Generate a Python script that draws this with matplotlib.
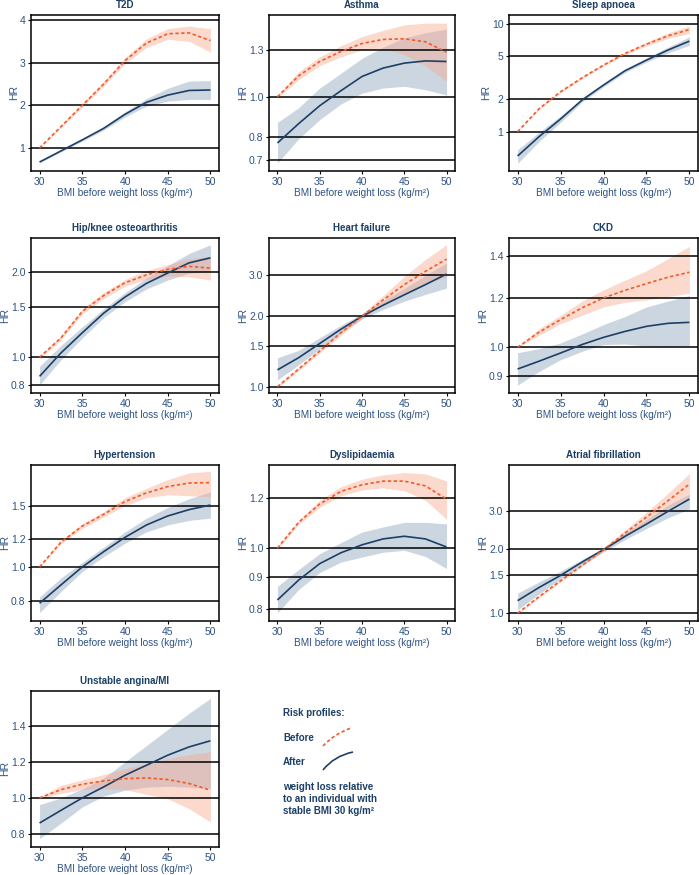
import matplotlib
matplotlib.use("Agg")
import matplotlib.pyplot as plt
from matplotlib.path import Path
import matplotlib.patches as patches
from matplotlib.ticker import FixedLocator, NullLocator, FixedFormatter

plt.rcParams['font.family'] = ['Liberation Sans', 'DejaVu Sans']

NAVY = '#1c3f66'
ORANGE = '#f15a29'
TXT = '#2d5283'

bmi = [30, 32.5, 35, 37.5, 40, 42.5, 45, 47.5, 50]

titles = ['T2D', 'Asthma', 'Sleep apnoea', 'Hip/knee osteoarthritis', 'Heart failure',
          'CKD', 'Hypertension', 'Dyslipidaemia', 'Atrial fibrillation', 'Unstable angina/MI']

# before weight loss (dashed) and after (solid), with CI bounds
t2d_before = [1.0, 1.5, 2.0, 2.5, 3.05, 3.46, 3.68, 3.70, 3.52]
t2d_before_lo = [0.99, 1.47, 1.96, 2.45, 2.98, 3.36, 3.55, 3.50, 3.25]
t2d_before_hi = [1.01, 1.53, 2.04, 2.56, 3.12, 3.56, 3.80, 3.86, 3.80]
t2d_after = [0.67, 0.93, 1.19, 1.46, 1.79, 2.07, 2.24, 2.35, 2.36]
t2d_after_lo = [0.65, 0.91, 1.16, 1.42, 1.73, 1.98, 2.10, 2.14, 2.14]
t2d_after_hi = [0.69, 0.95, 1.22, 1.50, 1.85, 2.16, 2.40, 2.57, 2.58]

asthma_before = [1.0, 1.124, 1.218, 1.288, 1.347, 1.378, 1.383, 1.36, 1.283]
asthma_before_lo = [0.995, 1.10, 1.19, 1.25, 1.30, 1.31, 1.265, 1.19, 1.09]
asthma_before_hi = [1.005, 1.15, 1.25, 1.33, 1.40, 1.45, 1.495, 1.51, 1.51]
asthma_after = [0.772, 0.860, 0.951, 1.034, 1.12, 1.174, 1.207, 1.222, 1.218]
asthma_after_lo = [0.69, 0.79, 0.88, 0.96, 1.02, 1.05, 1.06, 1.04, 1.01]
asthma_after_hi = [0.866, 0.94, 1.05, 1.14, 1.24, 1.32, 1.39, 1.43, 1.46]

sleep_before = [1.0, 1.63, 2.34, 3.15, 4.13, 5.29, 6.45, 7.7, 8.8]
sleep_before_lo = [0.99, 1.60, 2.29, 3.07, 4.02, 5.12, 6.2, 7.3, 8.1]
sleep_before_hi = [1.01, 1.66, 2.39, 3.23, 4.24, 5.46, 6.7, 8.2, 9.5]
sleep_after = [0.596, 0.90, 1.31, 1.96, 2.70, 3.66, 4.59, 5.69, 6.88]
sleep_after_lo = [0.51, 0.81, 1.22, 1.88, 2.60, 3.52, 4.40, 5.35, 6.3]
sleep_after_hi = [0.68, 0.99, 1.40, 2.04, 2.80, 3.80, 4.80, 6.05, 7.55]

hip_before = [1.0, 1.17, 1.45, 1.65, 1.83, 1.95, 2.04, 2.09, 2.06]
hip_before_lo = [0.99, 1.15, 1.42, 1.61, 1.78, 1.88, 1.93, 1.92, 1.87]
hip_before_hi = [1.01, 1.19, 1.48, 1.69, 1.88, 2.02, 2.12, 2.22, 2.27]
hip_after = [0.857, 1.036, 1.22, 1.43, 1.63, 1.82, 1.98, 2.15, 2.24]
hip_after_lo = [0.80, 0.98, 1.17, 1.38, 1.57, 1.74, 1.87, 1.98, 2.01]
hip_after_hi = [0.93, 1.10, 1.28, 1.48, 1.69, 1.90, 2.10, 2.32, 2.49]

hf_before = [1.0, 1.19, 1.42, 1.70, 2.0, 2.35, 2.73, 3.11, 3.51]
hf_before_lo = [0.99, 1.17, 1.39, 1.66, 1.95, 2.25, 2.51, 2.75, 2.96]
hf_before_hi = [1.01, 1.21, 1.45, 1.74, 2.05, 2.45, 2.96, 3.50, 4.04]
hf_after = [1.18, 1.33, 1.53, 1.76, 2.0, 2.23, 2.47, 2.73, 3.03]
hf_after_lo = [1.07, 1.24, 1.45, 1.70, 1.95, 2.14, 2.32, 2.48, 2.64]
hf_after_hi = [1.33, 1.43, 1.62, 1.83, 2.05, 2.33, 2.63, 2.99, 3.38]

ckd_before = [1.0, 1.057, 1.107, 1.156, 1.199, 1.233, 1.264, 1.294, 1.318]
ckd_before_lo = [0.998, 1.045, 1.09, 1.125, 1.16, 1.18, 1.19, 1.205, 1.22]
ckd_before_hi = [1.002, 1.07, 1.125, 1.185, 1.235, 1.28, 1.325, 1.385, 1.45]
ckd_after = [0.923, 0.95, 0.979, 1.01, 1.037, 1.06, 1.08, 1.092, 1.096]
ckd_after_lo = [0.87, 0.915, 0.955, 0.985, 1.01, 1.012, 1.004, 1.003, 1.004]
ckd_after_hi = [0.98, 0.995, 1.016, 1.05, 1.087, 1.12, 1.16, 1.185, 1.21]

htn_before = [1.0, 1.177, 1.31, 1.415, 1.54, 1.63, 1.70, 1.74, 1.745]
htn_before_lo = [0.995, 1.165, 1.29, 1.39, 1.50, 1.58, 1.61, 1.60, 1.59]
htn_before_hi = [1.005, 1.19, 1.33, 1.44, 1.58, 1.68, 1.78, 1.86, 1.88]
htn_after = [0.787, 0.888, 1.0, 1.106, 1.216, 1.319, 1.40, 1.46, 1.505]
htn_after_lo = [0.74, 0.85, 0.97, 1.07, 1.17, 1.26, 1.32, 1.36, 1.38]
htn_after_hi = [0.82, 0.93, 1.03, 1.14, 1.26, 1.38, 1.48, 1.57, 1.64]

dys_before = [1.0, 1.098, 1.174, 1.229, 1.259, 1.276, 1.276, 1.254, 1.195]
dys_before_lo = [0.995, 1.09, 1.16, 1.21, 1.235, 1.245, 1.232, 1.19, 1.11]
dys_before_hi = [1.005, 1.106, 1.19, 1.25, 1.285, 1.305, 1.316, 1.31, 1.277]
dys_after = [0.828, 0.89, 0.945, 0.983, 1.012, 1.034, 1.044, 1.034, 1.004]
dys_after_lo = [0.79, 0.86, 0.915, 0.95, 0.968, 0.985, 0.992, 0.97, 0.928]
dys_after_hi = [0.87, 0.925, 0.98, 1.02, 1.06, 1.08, 1.098, 1.098, 1.092]

af_before = [1.0, 1.194, 1.415, 1.67, 1.976, 2.36, 2.80, 3.34, 3.99]
af_before_lo = [0.99, 1.18, 1.40, 1.65, 1.94, 2.28, 2.66, 3.08, 3.48]
af_before_hi = [1.01, 1.21, 1.43, 1.69, 2.01, 2.44, 2.95, 3.62, 4.47]
af_after = [1.144, 1.318, 1.50, 1.73, 1.976, 2.28, 2.60, 2.98, 3.40]
af_after_lo = [1.036, 1.23, 1.44, 1.68, 1.93, 2.20, 2.48, 2.78, 3.06]
af_after_hi = [1.24, 1.40, 1.57, 1.78, 2.02, 2.36, 2.73, 3.18, 3.58]

ua_before = [1.0, 1.046, 1.076, 1.094, 1.107, 1.111, 1.102, 1.08, 1.043]
ua_before_lo = [0.995, 1.025, 1.046, 1.05, 1.046, 1.02, 0.996, 0.94, 0.867]
ua_before_hi = [1.005, 1.07, 1.10, 1.13, 1.163, 1.19, 1.218, 1.24, 1.256]
ua_after = [0.861, 0.931, 1.0, 1.061, 1.126, 1.181, 1.237, 1.283, 1.317]
ua_after_lo = [0.774, 0.86, 0.95, 1.01, 1.043, 1.06, 1.065, 1.06, 1.052]
ua_after_hi = [0.963, 1.0, 1.05, 1.11, 1.2, 1.29, 1.38, 1.47, 1.552]

yticks = [[1, 2, 3, 4], [0.7, 0.8, 1.0, 1.3], [1, 2, 5, 10], [0.8, 1.0, 1.5, 2.0],
          [1.0, 1.5, 2.0, 3.0], [0.9, 1.0, 1.2, 1.4], [0.8, 1.0, 1.2, 1.5],
          [0.8, 0.9, 1.0, 1.2], [1.0, 1.5, 2.0, 3.0], [0.8, 1.0, 1.2, 1.4]]
ytick_labels = [['1', '2', '3', '4'], ['0.7', '0.8', '1.0', '1.3'], ['1', '2', '5', '10'],
                ['0.8', '1.0', '1.5', '2.0'], ['1.0', '1.5', '2.0', '3.0'],
                ['0.9', '1.0', '1.2', '1.4'], ['0.8', '1.0', '1.2', '1.5'],
                ['0.8', '0.9', '1.0', '1.2'], ['1.0', '1.5', '2.0', '3.0'],
                ['0.8', '1.0', '1.2', '1.4']]
log_scale = [False, True, True, True, True, True, True, True, True, False]
ylims = [(0.46, 4.12), (0.66, 1.58), (0.433, 12), (0.749, 2.63), (0.94, 4.32),
         (0.845, 1.495), (0.70, 1.96), (0.767, 1.353), (0.92, 4.9), (0.728, 1.593)]

series = [
    (t2d_before, t2d_before_lo, t2d_before_hi, t2d_after, t2d_after_lo, t2d_after_hi),
    (asthma_before, asthma_before_lo, asthma_before_hi, asthma_after, asthma_after_lo, asthma_after_hi),
    (sleep_before, sleep_before_lo, sleep_before_hi, sleep_after, sleep_after_lo, sleep_after_hi),
    (hip_before, hip_before_lo, hip_before_hi, hip_after, hip_after_lo, hip_after_hi),
    (hf_before, hf_before_lo, hf_before_hi, hf_after, hf_after_lo, hf_after_hi),
    (ckd_before, ckd_before_lo, ckd_before_hi, ckd_after, ckd_after_lo, ckd_after_hi),
    (htn_before, htn_before_lo, htn_before_hi, htn_after, htn_after_lo, htn_after_hi),
    (dys_before, dys_before_lo, dys_before_hi, dys_after, dys_after_lo, dys_after_hi),
    (af_before, af_before_lo, af_before_hi, af_after, af_after_lo, af_after_hi),
    (ua_before, ua_before_lo, ua_before_hi, ua_after, ua_after_lo, ua_after_hi),
]

W, H = 699, 875
fig = plt.figure(figsize=(W / 100, H / 100), dpi=100)

# panel boxes in pixels: left, top, width, height
col_left = [31, 269, 509]
col_w = [188, 186, 189]
row_top = [15, 238, 465, 691]
row_h = [156, 155, 156, 156]

for i, title in enumerate(titles):
    r, c = divmod(i, 3)
    ax = fig.add_axes([col_left[c] / W, 1 - (row_top[r] + row_h[r]) / H,
                       col_w[c] / W, row_h[r] / H])
    b, blo, bhi, a, alo, ahi = series[i]
    ax.fill_between(bmi, alo, ahi, color='#8fa5be', alpha=0.45, lw=0, zorder=1)
    ax.fill_between(bmi, blo, bhi, color='#f7a58a', alpha=0.42, lw=0, zorder=1)
    for yt in yticks[i]:
        ax.axhline(yt, color='black', lw=1.1, zorder=2)
    ax.plot(bmi, a, color=NAVY, lw=1.2, zorder=3, solid_capstyle='butt')
    ax.plot(bmi, b, color=ORANGE, lw=1.2, dashes=(2.0, 1.5), zorder=4)
    if log_scale[i]:
        ax.set_yscale('log')
    ax.set_ylim(*ylims[i])
    ax.set_xlim(29, 51)
    ax.yaxis.set_major_locator(FixedLocator(yticks[i]))
    ax.yaxis.set_major_formatter(FixedFormatter(ytick_labels[i]))
    ax.yaxis.set_minor_locator(NullLocator())
    ax.set_xticks([30, 35, 40, 45, 50])
    ax.tick_params(labelsize=7.5, labelcolor=TXT, length=2.5, width=0.8, pad=1.5)
    for s in ax.spines.values():
        s.set_linewidth(1.1)
        s.set_color('black')
    ax.set_title(title, fontsize=7, fontweight='bold', color=NAVY, pad=5)
    ax.set_xlabel('BMI before weight loss (kg/m²)', fontsize=7.2, color=TXT, labelpad=1)
    ax.set_ylabel('HR', fontsize=7.5, color=TXT, labelpad=0.5)

# legend block
def fx(px):
    return px / W

def fy(py):
    return 1 - py / H

tkw = dict(fontsize=7, fontweight='bold', color=NAVY, va='center', ha='left')
fig.text(fx(283), fy(713), 'Risk profiles:', **tkw)
fig.text(fx(283), fy(738), 'Before', **tkw)
fig.text(fx(283), fy(762), 'After', **tkw)
fig.text(fx(283), fy(799), 'weight loss relative\nto an individual with\nstable BMI 30 kg/m²',
         linespacing=1.25, **tkw)

before_path = Path([(fx(323), fy(746)), (fx(334), fy(734)), (fx(351), fy(728))],
                   [Path.MOVETO, Path.CURVE3, Path.CURVE3])
after_path = Path([(fx(323), fy(770)), (fx(334), fy(756)), (fx(353), fy(752))],
                  [Path.MOVETO, Path.CURVE3, Path.CURVE3])
fig.add_artist(patches.PathPatch(before_path, transform=fig.transFigure, fill=False,
                                 edgecolor=ORANGE, lw=1.2, linestyle=(0, (2.0, 1.5))))
fig.add_artist(patches.PathPatch(after_path, transform=fig.transFigure, fill=False,
                                 edgecolor=NAVY, lw=1.2))

fig.savefig('out.png', dpi=100)
